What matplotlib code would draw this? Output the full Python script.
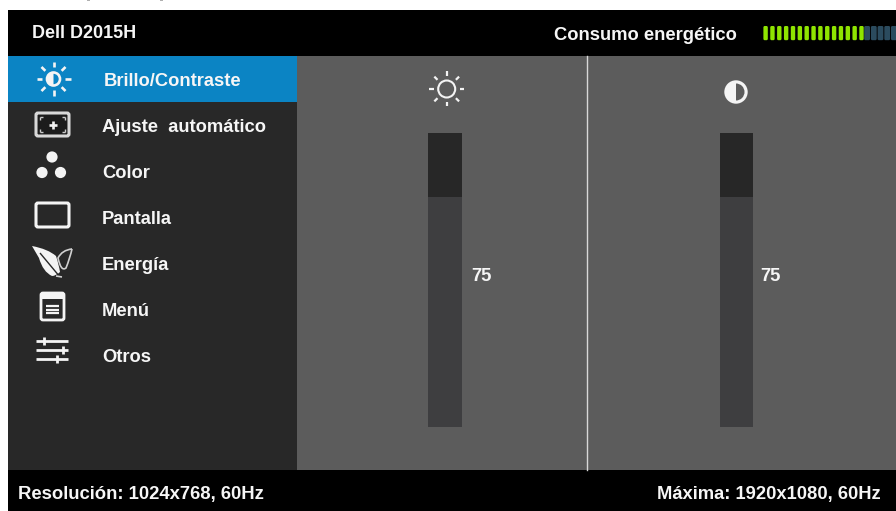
import matplotlib
matplotlib.use("Agg")
import matplotlib.pyplot as plt
from matplotlib.patches import Rectangle, Circle, FancyBboxPatch, Wedge, PathPatch
from matplotlib.path import Path
import numpy as np

plt.rcParams['font.family'] = ['Liberation Sans', 'DejaVu Sans']

menu_labels = ['Brillo/Contraste', 'Ajuste  automático', 'Color', 'Pantalla', 'Energía', 'Menú', 'Otros']
slider_values = [75, 75]
slider_fill = [78.2, 78.2]  # height of lighter part of the track
energy_on = 15
energy_off = 5

WHITE = '#f4f4f4'
BLACK = '#000000'
SIDE = '#282828'
GRAY = '#5c5c5c'
BLUE = '#0b84c4'
TRACK = '#3e3e40'
TRACK_TOP = '#272727'

fig = plt.figure(figsize=(8.96, 5.11), dpi=100, facecolor='white')
ax = fig.add_axes([0, 0, 1, 1])
ax.set_xlim(0, 896)
ax.set_ylim(511, 0)
ax.axis('off')


def box(x0, y0, x1, y1, color, z=1):
    ax.add_patch(Rectangle((x0, y0), x1 - x0, y1 - y0, fc=color, ec='none', zorder=z))


def label(x, y, s, size=13.2, ha='left', color='#f6f6f6'):
    # y is the baseline here, accents would move a centred label
    ax.text(x, y, s, fontsize=size, fontweight='bold', color=color, ha=ha, va='baseline', zorder=5)


def line(x0, y0, x1, y1, lw=1.5, color=WHITE):
    ax.plot([x0, x1], [y0, y1], color=color, lw=lw, solid_capstyle='butt', zorder=4)


def sun(cx, cy, ray0, ray1, lw):
    for a in np.arange(0, 360, 45):
        c, s = np.cos(np.radians(a)), np.sin(np.radians(a))
        line(cx + ray0 * c, cy + ray0 * s, cx + ray1 * c, cy + ray1 * s, lw=lw)


# panels
box(8, 10, 896, 56, BLACK)
box(8, 56, 297, 470, SIDE)
box(297, 56, 896, 470, GRAY)
box(8, 470, 896, 511, BLACK)
box(8, 56, 297, 102, BLUE, 2)
ax.plot([587.2, 587.2], [56, 470], color='#d8d8d8', lw=1, zorder=3)

# cropped bits of text at the very top
box(87, 0, 90, 1.5, '#b0b0b0')
box(160, 0, 163, 1.5, '#b0b0b0')

# header and footer
label(32, 38, 'Dell D2015H', 13)
label(554, 39.5, 'Consumo energético', 13.2)
label(18, 498.5, 'Resolución: 1024x768, 60Hz', 13.3)
label(881, 498.5, 'Máxima: 1920x1080, 60Hz', 13.2, ha='right')

# energy meter
for i in range(energy_on):
    ax.add_patch(FancyBboxPatch((764.2 + i * 6.85, 26.8), 2.8, 12.6, boxstyle='round,pad=0.8,rounding_size=1.4',
                                fc='#8fe400', ec='none', zorder=3))
for i in range(energy_off):
    ax.add_patch(FancyBboxPatch((865 + i * 6.7, 26.8), 4.2, 12.6, boxstyle='round,pad=0.8,rounding_size=1.4',
                                fc='#2b4b5e', ec='none', zorder=3))

# menu
menu_y = [85.5, 131.5, 177.5, 223.5, 269.5, 315.5, 361.5]
for i, name in enumerate(menu_labels):
    label(104 if i == 0 else 102, menu_y[i], name, 13.2)

# brightness icon
sun(53.5, 79, 11.5, 17, 1.9)
ax.add_patch(Circle((53.5, 79), 6.5, fc='none', ec=WHITE, lw=1.9, zorder=4))
ax.add_patch(Wedge((53.5, 79), 6.5, 90, 270, fc=WHITE, ec='none', zorder=4))

# auto adjust icon
ax.add_patch(FancyBboxPatch((36, 113), 33, 23, boxstyle='round,pad=0,rounding_size=2', fc='#1c1c1c', ec='#d8d8d8', lw=2.2, zorder=4))
line(49, 125, 57, 125, 1.9)
line(53, 121, 53, 129, 1.9)
for sx, sy in [(40, 117), (65, 117), (40, 132), (65, 132)]:
    dx = 3 if sx == 40 else -3
    dy = 3 if sy == 117 else -3
    line(sx, sy, sx + dx, sy, 1, '#cccccc')
    line(sx, sy, sx, sy + dy, 1, '#cccccc')

# color icon
for cx, cy in [(52, 157), (42, 172.5), (60.5, 172.5)]:
    ax.add_patch(Circle((cx, cy), 5.6, fc=WHITE, ec='none', zorder=4))

# screen icon
ax.add_patch(FancyBboxPatch((36, 203), 33, 24, boxstyle='round,pad=0,rounding_size=2', fc='none', ec=WHITE, lw=2.2, zorder=4))

# leaf icon
leaf = Path([(32, 246), (48, 249), (56, 256), (59, 265), (60, 272), (56, 276), (52, 276), (43, 272), (39, 258), (32, 246)],
            [Path.MOVETO, Path.CURVE3, Path.CURVE3, Path.CURVE3, Path.CURVE3, Path.CURVE3, Path.CURVE3, Path.CURVE3, Path.CURVE3, Path.LINETO])
ax.add_patch(PathPatch(leaf, fc=WHITE, ec='none', zorder=4))
leaf2 = Path([(72, 249), (62, 250), (58, 258), (61, 272), (66, 268), (70, 258), (72, 249)],
             [Path.MOVETO, Path.CURVE3, Path.CURVE3, Path.CURVE3, Path.CURVE3, Path.CURVE3, Path.LINETO])
ax.add_patch(PathPatch(leaf2, fc='none', ec='#d0d0d0', lw=1.2, zorder=4))
line(40, 253, 60, 277, 1, SIDE)
line(56, 276, 62, 277, 1.2, '#d0d0d0')

# menu icon
ax.add_patch(FancyBboxPatch((41, 293), 23, 27, boxstyle='round,pad=0,rounding_size=2', fc='none', ec=WHITE, lw=2, zorder=4))
box(41, 293, 64, 299, WHITE, 4)
for yy in [306.5, 310, 313.5]:
    line(46, yy, 59, yy, 1.6)

# other icon
for yy, tx, ty in [(341, 44, 4), (350, 63, 4), (359, 57, 4)]:
    line(36, yy, 68, yy, 2)
    line(tx, yy - ty, tx, yy + ty, 2)

# sliders
slider_x = [428.4, 720]
for k in range(2):
    # each slider gets its own 0-100 scale
    s = fig.add_axes([slider_x[k] / 896, 1 - 427 / 511, 33.4 / 896, 294 / 511], zorder=3)
    s.set_xlim(0, 1)
    s.set_ylim(0, 100)
    s.axis('off')
    s.bar([0.5], [slider_fill[k]], width=1, color=TRACK)
    s.bar([0.5], [100 - slider_fill[k]], bottom=[slider_fill[k]], width=1, color=TRACK_TOP)
label(471, 281, str(slider_values[0]), 13.2)
label(760, 281, str(slider_values[1]), 13.2)

# slider icons
sun(446.7, 89, 13, 17.5, 1.6)
ax.add_patch(Circle((446.7, 89), 8.5, fc='none', ec=WHITE, lw=1.5, zorder=4))
ax.add_patch(Circle((736, 92), 11.7, fc=WHITE, ec='none', zorder=4))
ax.add_patch(Wedge((736, 92), 8.5, -90, 90, fc=GRAY, ec='none', zorder=5))

fig.savefig('out.png', dpi=100)
